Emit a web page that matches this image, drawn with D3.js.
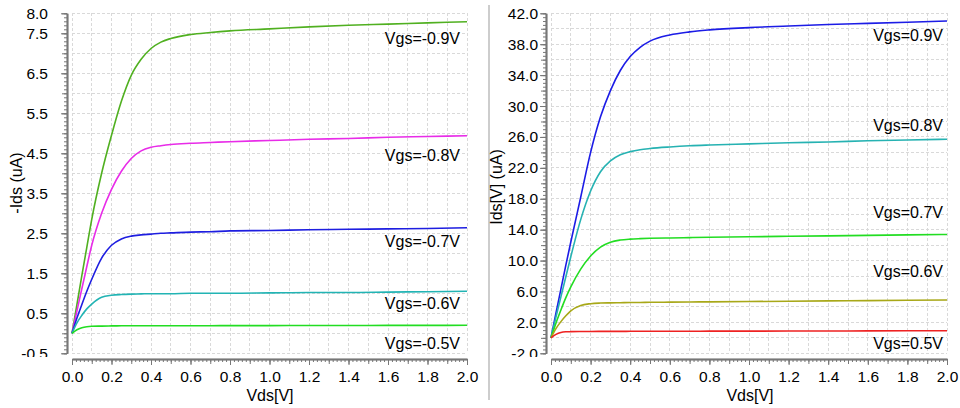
<!DOCTYPE html>
<html>
<head>
<meta charset="utf-8">
<script src="https://cdn.jsdelivr.net/npm/d3@7"></script>
<style>
  html, body { margin: 0; padding: 0; background: #fff; }
  svg { display: block; font-family: "Liberation Sans", Arial, sans-serif; }
</style>
</head>
<body>
<svg id="chart" width="960" height="408"></svg>
<script>
// Drain-source sweep points (V)
const vds = [0, 0.025, 0.05, 0.075, 0.1, 0.15, 0.2, 0.25, 0.3, 0.35, 0.4, 0.45,
             0.5, 0.6, 0.7, 0.8, 1.0, 1.2, 1.4, 1.6, 1.8, 2.0];

// PMOS: -Ids (uA) for each gate bias
const pmosLabels = ["Vgs=-0.9V", "Vgs=-0.8V", "Vgs=-0.7V", "Vgs=-0.6V", "Vgs=-0.5V"];
const pmosVgsN09 = [0, 0.72, 1.45, 2.15, 2.85, 4.0, 4.95, 5.8, 6.45, 6.85, 7.12, 7.28,
                    7.37, 7.47, 7.52, 7.56, 7.61, 7.66, 7.70, 7.73, 7.76, 7.79];
const pmosVgsN08 = [0, 0.56, 1.12, 1.67, 2.2, 3.0, 3.6, 4.05, 4.37, 4.56, 4.65, 4.69,
                    4.72, 4.75, 4.77, 4.79, 4.82, 4.85, 4.87, 4.90, 4.92, 4.94];
const pmosVgsN07 = [0, 0.38, 0.72, 1.05, 1.35, 1.88, 2.2, 2.36, 2.43, 2.46, 2.48, 2.50,
                    2.51, 2.53, 2.54, 2.56, 2.57, 2.59, 2.60, 2.61, 2.62, 2.64];
const pmosVgsN06 = [0, 0.26, 0.45, 0.61, 0.73, 0.90, 0.95, 0.97, 0.98, 0.985, 0.99, 0.99,
                    0.99, 1.0, 1.0, 1.0, 1.01, 1.02, 1.02, 1.03, 1.04, 1.05];
const pmosVgsN05 = [0, 0.09, 0.14, 0.165, 0.175, 0.18, 0.185, 0.187, 0.188, 0.189, 0.19, 0.19,
                    0.19, 0.19, 0.19, 0.192, 0.193, 0.195, 0.196, 0.197, 0.198, 0.2];

// NMOS: Ids (uA) for each gate bias
const nmosLabels = ["Vgs=0.9V", "Vgs=0.8V", "Vgs=0.7V", "Vgs=0.6V", "Vgs=0.5V"];
const nmosVgs09 = [0, 3.2, 6.3, 9.4, 12.4, 18.2, 24.0, 28.6, 32.0, 34.6, 36.4, 37.6,
                   38.4, 39.2, 39.6, 39.85, 40.15, 40.35, 40.55, 40.7, 40.85, 41.0];
const nmosVgs08 = [0, 2.7, 5.3, 7.9, 10.5, 15.3, 19.0, 21.5, 22.9, 23.7, 24.1, 24.35,
                   24.5, 24.7, 24.85, 24.95, 25.1, 25.25, 25.35, 25.5, 25.6, 25.7];
const nmosVgs07 = [0, 1.9, 3.6, 5.2, 6.6, 8.9, 10.6, 11.75, 12.38, 12.66, 12.78, 12.84,
                   12.88, 12.93, 12.97, 13.01, 13.08, 13.14, 13.2, 13.26, 13.32, 13.38];
const nmosVgs06 = [0, 1.2, 2.1, 2.85, 3.5, 4.2, 4.42, 4.5, 4.53, 4.55, 4.57, 4.58,
                   4.6, 4.62, 4.64, 4.66, 4.7, 4.74, 4.78, 4.82, 4.86, 4.9];
const nmosVgs05 = [0, 0.45, 0.7, 0.78, 0.8, 0.82, 0.83, 0.835, 0.84, 0.84, 0.845, 0.85,
                   0.85, 0.855, 0.86, 0.865, 0.87, 0.88, 0.89, 0.9, 0.91, 0.92];

// Axis tick labels
const xTickLabels = ["0.0", "0.2", "0.4", "0.6", "0.8", "1.0", "1.2", "1.4", "1.6", "1.8", "2.0"];
const pmosYTickLabels = ["-0.5", "0.5", "1.5", "2.5", "3.5", "4.5", "5.5", "6.5", "7.5", "8.0"];
const nmosYTickLabels = ["-2.0", "2.0", "6.0", "10.0", "14.0", "18.0", "22.0", "26.0",
                         "30.0", "34.0", "38.0", "42.0"];

const svg = d3.select("#chart");
const plotTop = 13.3, plotBottom = 353.3, xAxisY = 359;

const panels = [
  {
    x0: 72, x1: 467, yDomain: [-0.5, 8.0],
    series: [pmosVgsN09, pmosVgsN08, pmosVgsN07, pmosVgsN06, pmosVgsN05],
    labels: pmosLabels,
    colors: ["#50b020", "#e82ce8", "#1e1ee0", "#22b4b4", "#22dd22"],
    labelRight: 460, labelBaselines: [44, 161, 247, 309, 348.5],
    yTickLabels: pmosYTickLabels, yLabelRight: 48,
    gridStep: 0.5, minorStep: 0.1,
    yTitle: "-Ids (uA)", yTitleX: 16, yTitleY: 183,
    xTitleX: 270
  },
  {
    x0: 551, x1: 947, yDomain: [-2, 42],
    series: [nmosVgs09, nmosVgs08, nmosVgs07, nmosVgs06, nmosVgs05],
    labels: nmosLabels,
    colors: ["#1c1ce6", "#26b2b2", "#22dd22", "#a8a818", "#ee2222"],
    labelRight: 943, labelBaselines: [41, 131, 218, 277, 349],
    yTickLabels: nmosYTickLabels, yLabelRight: 538,
    gridStep: 2, minorStep: 0.5,
    yTitle: "Ids[V] (uA)", yTitleX: 496, yTitleY: 187,
    xTitleX: 750
  }
];

// Separator between the two panels
svg.append("line")
  .attr("x1", 489).attr("x2", 489).attr("y1", 5).attr("y2", 400)
  .attr("stroke", "#bdbdbd").attr("stroke-width", 1.5);

// Clip region for y tick labels (bottom label is cut at the axis end)
svg.append("defs").append("clipPath").attr("id", "ylabclip")
  .append("rect").attr("x", 0).attr("y", 0).attr("width", 960).attr("height", 357);

panels.forEach(p => {
  const x = d3.scaleLinear().domain([0, 2]).range([p.x0, p.x1]);
  const y = d3.scaleLinear().domain(p.yDomain).range([plotBottom, plotTop]);
  const g = svg.append("g");

  // Grid
  const grid = g.append("g").attr("stroke", "#d9d9d9").attr("stroke-width", 1)
    .attr("stroke-dasharray", "3,2").attr("shape-rendering", "crispEdges");
  d3.range(0, 2.0001, 0.1).forEach(v => {
    grid.append("line").attr("x1", x(v)).attr("x2", x(v))
      .attr("y1", plotTop).attr("y2", plotBottom);
  });
  d3.range(p.yDomain[0], p.yDomain[1] + 1e-6, p.gridStep).forEach(v => {
    grid.append("line").attr("x1", p.x0).attr("x2", p.x1)
      .attr("y1", y(v)).attr("y2", y(v));
  });

  // Y axis: line + minor/medium/major ticks
  const yAxisX = p.x0 - 5;
  const yVals = p.yTickLabels.map(Number);
  const yMinor = d3.range(p.yDomain[0], p.yDomain[1] + 1e-6, p.minorStep);
  const yMid = d3.range(p.yDomain[0], p.yDomain[1] + 1e-6, p.gridStep);
  const ya = g.append("g").attr("transform", `translate(${yAxisX},0)`);
  ya.append("g").call(d3.axisLeft(y).tickValues(yMinor).tickSize(3).tickSizeOuter(0).tickFormat(""));
  ya.append("g").call(d3.axisLeft(y).tickValues(yMid).tickSize(5).tickSizeOuter(0).tickFormat(""));
  ya.append("g").call(d3.axisLeft(y).tickValues(yVals).tickSize(6).tickSizeOuter(0).tickFormat(""));
  ya.selectAll("path.domain").attr("stroke", "#777").attr("stroke-width", 1.5);
  ya.selectAll(".tick line").attr("stroke", "#777");

  const ylab = g.append("g").attr("clip-path", "url(#ylabclip)");
  p.yTickLabels.forEach(t => {
    ylab.append("text").attr("x", p.yLabelRight).attr("y", y(+t) + 5.5)
      .attr("text-anchor", "end").attr("font-size", 15.5).attr("fill", "#000").text(t);
  });

  // X axis
  const xVals = xTickLabels.map(Number);
  const xa = g.append("g").attr("transform", `translate(0,${xAxisY})`);
  xa.append("g").call(d3.axisBottom(x).tickValues(d3.range(0, 2.0001, 0.02)).tickSize(3).tickSizeOuter(0).tickFormat(""));
  xa.append("g").call(d3.axisBottom(x).tickValues(d3.range(0, 2.0001, 0.1)).tickSize(5).tickSizeOuter(0).tickFormat(""));
  xa.append("g").call(d3.axisBottom(x).tickValues(xVals).tickSize(6).tickSizeOuter(0)
    .tickFormat((d, i) => xTickLabels[i]));
  xa.selectAll("path.domain").attr("stroke", "#777").attr("stroke-width", 1.5);
  xa.selectAll(".tick line").attr("stroke", "#777");
  xa.selectAll(".tick text").attr("font-size", 15.5).attr("fill", "#000")
    .attr("font-family", "Liberation Sans, Arial, sans-serif")
    .attr("y", 0).attr("dy", 0).attr("transform", "translate(0,23)");

  // Axis titles
  g.append("text").attr("x", p.xTitleX).attr("y", 400.5).attr("text-anchor", "middle")
    .attr("font-size", 16).attr("fill", "#000").text("Vds[V]");
  g.append("text").attr("transform", `translate(${p.yTitleX},${p.yTitleY}) rotate(-90)`)
    .attr("text-anchor", "middle").attr("dy", "0.35em")
    .attr("font-size", 16).attr("fill", "#000").text(p.yTitle);

  // Curves
  const line = d3.line().x((d, i) => x(vds[i])).y(d => y(d)).curve(d3.curveMonotoneX);
  p.series.forEach((s, si) => {
    g.append("path").datum(s).attr("d", line).attr("fill", "none")
      .attr("stroke", p.colors[si]).attr("stroke-width", 1.6);
  });

  // Curve labels
  p.labels.forEach((t, si) => {
    g.append("text").attr("x", p.labelRight).attr("y", p.labelBaselines[si])
      .attr("text-anchor", "end").attr("font-size", 16).attr("fill", "#000").text(t);
  });
});
</script>
</body>
</html>
